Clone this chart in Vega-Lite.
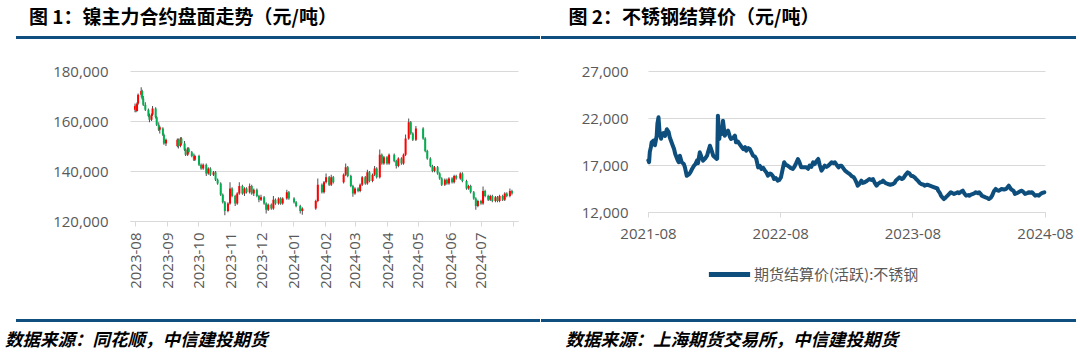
{
  "$schema": "https://vega.github.io/schema/vega-lite/v6.json",
  "padding": {"left": 5, "top": 8, "right": 0, "bottom": 0},
  "background": "white",
  "config": {
    "font": "Open Sans",
    "view": {"stroke": null},
    "concat": {"spacing": 0},
    "title": {"font": "Noto Sans CJK SC", "fontWeight": "bold", "color": "#000000", "anchor": "start"}
  },
  "resolve": {"scale": {"color": "independent"}, "legend": {"color": "independent"}},
  "spacing": 25,
  "datasets": {
    "ni": [
      {"d":"2023-08-01","o":164500,"h":167000,"l":163500,"c":166000},
      {"d":"2023-08-02","o":166000,"h":166500,"l":163500,"c":164000},
      {"d":"2023-08-03","o":164000,"h":167500,"l":163800,"c":167000},
      {"d":"2023-08-04","o":167000,"h":171000,"l":166500,"c":170500},
      {"d":"2023-08-07","o":170500,"h":173500,"l":169500,"c":172000},
      {"d":"2023-08-08","o":172000,"h":172500,"l":168500,"c":169000},
      {"d":"2023-08-09","o":169000,"h":170000,"l":166000,"c":166500},
      {"d":"2023-08-11","o":166500,"h":167500,"l":164000,"c":164500},
      {"d":"2023-08-14","o":164500,"h":165000,"l":161500,"c":162000},
      {"d":"2023-08-15","o":162000,"h":163000,"l":159500,"c":160500},
      {"d":"2023-08-17","o":160500,"h":163000,"l":160000,"c":162500},
      {"d":"2023-08-18","o":162500,"h":166000,"l":162000,"c":165000},
      {"d":"2023-08-21","o":165000,"h":165500,"l":161000,"c":161500},
      {"d":"2023-08-22","o":161500,"h":162000,"l":158000,"c":158500},
      {"d":"2023-08-24","o":158500,"h":159500,"l":156000,"c":156500},
      {"d":"2023-08-25","o":156500,"h":158000,"l":155000,"c":157500},
      {"d":"2023-08-28","o":157000,"h":157500,"l":154000,"c":154500},
      {"d":"2023-08-29","o":154500,"h":155000,"l":150500,"c":151000},
      {"d":"2023-08-31","o":151000,"h":153000,"l":150000,"c":152500},
      {"d":"2023-09-11","o":150000,"h":153000,"l":149500,"c":152500},
      {"d":"2023-09-12","o":152500,"h":153000,"l":149000,"c":150000},
      {"d":"2023-09-14","o":150000,"h":153500,"l":149500,"c":153000},
      {"d":"2023-09-15","o":153000,"h":153500,"l":150500,"c":151000},
      {"d":"2023-09-18","o":151000,"h":152000,"l":148000,"c":148500},
      {"d":"2023-09-19","o":148500,"h":149000,"l":146000,"c":146500},
      {"d":"2023-09-21","o":146500,"h":149500,"l":146000,"c":149000},
      {"d":"2023-09-22","o":149000,"h":149500,"l":147000,"c":147500},
      {"d":"2023-09-25","o":147500,"h":148000,"l":145500,"c":146000},
      {"d":"2023-09-27","o":146000,"h":147000,"l":144000,"c":144500},
      {"d":"2023-09-28","o":144500,"h":146500,"l":144000,"c":146000},
      {"d":"2023-10-02","o":146000,"h":146500,"l":142000,"c":142500},
      {"d":"2023-10-04","o":142500,"h":143000,"l":140500,"c":141000},
      {"d":"2023-10-06","o":141000,"h":143000,"l":140500,"c":142500},
      {"d":"2023-10-09","o":142500,"h":143000,"l":138000,"c":139000},
      {"d":"2023-10-11","o":139000,"h":141500,"l":138500,"c":141000},
      {"d":"2023-10-13","o":141000,"h":141500,"l":138000,"c":138500},
      {"d":"2023-10-16","o":138500,"h":140000,"l":138000,"c":139500},
      {"d":"2023-10-18","o":139500,"h":140000,"l":136000,"c":136500},
      {"d":"2023-10-20","o":136500,"h":137000,"l":134500,"c":135000},
      {"d":"2023-10-23","o":135000,"h":135500,"l":130000,"c":130500},
      {"d":"2023-10-25","o":130500,"h":131000,"l":127000,"c":127500},
      {"d":"2023-10-27","o":127500,"h":128000,"l":122300,"c":124000},
      {"d":"2023-10-30","o":124000,"h":127500,"l":123500,"c":127000},
      {"d":"2023-11-01","o":127000,"h":135500,"l":126500,"c":133000},
      {"d":"2023-11-03","o":133000,"h":133500,"l":129500,"c":130000},
      {"d":"2023-11-06","o":130000,"h":130500,"l":126000,"c":127000},
      {"d":"2023-11-08","o":127000,"h":131500,"l":126500,"c":131000},
      {"d":"2023-11-10","o":131000,"h":135500,"l":130500,"c":134000},
      {"d":"2023-11-13","o":134000,"h":134500,"l":130500,"c":131000},
      {"d":"2023-11-15","o":131000,"h":133500,"l":130000,"c":133000},
      {"d":"2023-11-17","o":133000,"h":133500,"l":131000,"c":131500},
      {"d":"2023-11-20","o":131500,"h":135000,"l":131000,"c":134000},
      {"d":"2023-11-22","o":134000,"h":134500,"l":130500,"c":131000},
      {"d":"2023-11-24","o":131000,"h":133000,"l":130000,"c":132500},
      {"d":"2023-11-27","o":132500,"h":133000,"l":129500,"c":130000},
      {"d":"2023-11-29","o":130000,"h":130500,"l":127500,"c":128500},
      {"d":"2023-12-01","o":128500,"h":130500,"l":128000,"c":129500},
      {"d":"2023-12-04","o":129500,"h":130000,"l":126500,"c":127000},
      {"d":"2023-12-06","o":127000,"h":127500,"l":123000,"c":124500},
      {"d":"2023-12-08","o":124500,"h":127000,"l":124000,"c":126500},
      {"d":"2023-12-11","o":126500,"h":127000,"l":124500,"c":125000},
      {"d":"2023-12-13","o":125000,"h":130000,"l":124500,"c":128500},
      {"d":"2023-12-15","o":128500,"h":129000,"l":126500,"c":127000},
      {"d":"2023-12-18","o":127000,"h":129500,"l":126500,"c":129000},
      {"d":"2023-12-20","o":129000,"h":129500,"l":126500,"c":127000},
      {"d":"2023-12-22","o":127000,"h":129500,"l":126500,"c":129000},
      {"d":"2023-12-26","o":129000,"h":132500,"l":128500,"c":131500},
      {"d":"2023-12-28","o":131500,"h":132000,"l":128500,"c":129000},
      {"d":"2024-01-02","o":129000,"h":129500,"l":127000,"c":127500},
      {"d":"2024-01-04","o":127500,"h":128000,"l":125500,"c":126000},
      {"d":"2024-01-08","o":126000,"h":126500,"l":123000,"c":124000},
      {"d":"2024-01-10","o":124000,"h":125500,"l":122500,"c":125000},
      {"d":"2024-01-23","o":125000,"h":128500,"l":124500,"c":128000},
      {"d":"2024-01-25","o":128000,"h":137000,"l":127500,"c":134500},
      {"d":"2024-01-29","o":134500,"h":135000,"l":131000,"c":131500},
      {"d":"2024-01-31","o":131500,"h":136000,"l":131000,"c":135500},
      {"d":"2024-02-02","o":135500,"h":139000,"l":135000,"c":137500},
      {"d":"2024-02-05","o":137500,"h":138000,"l":134000,"c":134500},
      {"d":"2024-02-07","o":134500,"h":138500,"l":134000,"c":137500},
      {"d":"2024-02-09","o":137500,"h":138000,"l":135000,"c":135500},
      {"d":"2024-02-19","o":135500,"h":139000,"l":135000,"c":138500},
      {"d":"2024-02-21","o":138500,"h":143000,"l":138000,"c":141500},
      {"d":"2024-02-23","o":141500,"h":142000,"l":137500,"c":138000},
      {"d":"2024-02-26","o":138000,"h":138500,"l":133500,"c":134000},
      {"d":"2024-02-28","o":134000,"h":134500,"l":129700,"c":131000},
      {"d":"2024-03-01","o":131000,"h":133500,"l":130500,"c":133000},
      {"d":"2024-03-04","o":133000,"h":133500,"l":131500,"c":132000},
      {"d":"2024-03-06","o":132000,"h":135000,"l":131500,"c":134500},
      {"d":"2024-03-08","o":134500,"h":138000,"l":134000,"c":137500},
      {"d":"2024-03-11","o":137500,"h":138000,"l":134500,"c":135000},
      {"d":"2024-03-13","o":135000,"h":140500,"l":134500,"c":139500},
      {"d":"2024-03-15","o":139500,"h":140000,"l":135500,"c":136000},
      {"d":"2024-03-18","o":136000,"h":139000,"l":135500,"c":138500},
      {"d":"2024-03-20","o":138500,"h":142000,"l":138000,"c":141000},
      {"d":"2024-03-22","o":141000,"h":141500,"l":137000,"c":137500},
      {"d":"2024-03-25","o":137500,"h":148600,"l":137000,"c":146500},
      {"d":"2024-03-27","o":146500,"h":147000,"l":142500,"c":143000},
      {"d":"2024-03-29","o":143000,"h":146000,"l":142500,"c":145500},
      {"d":"2024-04-01","o":145500,"h":146000,"l":142500,"c":143000},
      {"d":"2024-04-03","o":143000,"h":147000,"l":142500,"c":146500},
      {"d":"2024-04-08","o":146500,"h":147000,"l":143500,"c":144000},
      {"d":"2024-04-10","o":144000,"h":144500,"l":141000,"c":142000},
      {"d":"2024-04-12","o":142000,"h":145500,"l":141500,"c":145000},
      {"d":"2024-04-15","o":145000,"h":145500,"l":142500,"c":143000},
      {"d":"2024-04-17","o":143000,"h":147000,"l":142500,"c":146500},
      {"d":"2024-04-19","o":146500,"h":154600,"l":146000,"c":153000},
      {"d":"2024-04-22","o":153000,"h":161000,"l":152500,"c":159500},
      {"d":"2024-04-24","o":159500,"h":160000,"l":154500,"c":155000},
      {"d":"2024-04-26","o":155000,"h":155500,"l":152000,"c":152500},
      {"d":"2024-04-29","o":152500,"h":158000,"l":152000,"c":157000},
      {"d":"2024-05-06","o":157000,"h":157500,"l":152500,"c":153000},
      {"d":"2024-05-08","o":153000,"h":153500,"l":147500,"c":148000},
      {"d":"2024-05-10","o":148000,"h":148500,"l":144500,"c":145000},
      {"d":"2024-05-13","o":145000,"h":145500,"l":141500,"c":142000},
      {"d":"2024-05-15","o":142000,"h":142500,"l":139500,"c":140000},
      {"d":"2024-05-17","o":140000,"h":142000,"l":139500,"c":141500},
      {"d":"2024-05-20","o":141500,"h":142000,"l":138500,"c":139000},
      {"d":"2024-05-22","o":139000,"h":139500,"l":136500,"c":137000},
      {"d":"2024-05-24","o":137000,"h":137500,"l":134000,"c":134500},
      {"d":"2024-05-27","o":134500,"h":137000,"l":134000,"c":136500},
      {"d":"2024-05-29","o":136500,"h":137000,"l":134500,"c":135000},
      {"d":"2024-05-31","o":135000,"h":137500,"l":134500,"c":137000},
      {"d":"2024-06-03","o":137000,"h":137500,"l":135000,"c":135500},
      {"d":"2024-06-05","o":135500,"h":138500,"l":135000,"c":138000},
      {"d":"2024-06-07","o":138000,"h":138500,"l":136500,"c":137000},
      {"d":"2024-06-11","o":137000,"h":139500,"l":136500,"c":139000},
      {"d":"2024-06-13","o":139000,"h":139500,"l":135500,"c":136000},
      {"d":"2024-06-17","o":136000,"h":136500,"l":132500,"c":133000},
      {"d":"2024-06-19","o":133000,"h":134500,"l":132500,"c":134000},
      {"d":"2024-06-21","o":134000,"h":134500,"l":131000,"c":131500},
      {"d":"2024-06-24","o":131500,"h":132000,"l":128500,"c":129000},
      {"d":"2024-06-26","o":129000,"h":129500,"l":124500,"c":126000},
      {"d":"2024-06-28","o":126000,"h":128500,"l":125500,"c":128000},
      {"d":"2024-07-01","o":128000,"h":128500,"l":126500,"c":127000},
      {"d":"2024-07-03","o":127000,"h":133800,"l":126500,"c":132000},
      {"d":"2024-07-05","o":132000,"h":132500,"l":129500,"c":130000},
      {"d":"2024-07-08","o":130000,"h":130500,"l":128000,"c":128500},
      {"d":"2024-07-10","o":128500,"h":130500,"l":128000,"c":130000},
      {"d":"2024-07-12","o":130000,"h":130500,"l":127500,"c":128000},
      {"d":"2024-07-15","o":128000,"h":130000,"l":127500,"c":129500},
      {"d":"2024-07-17","o":129500,"h":130000,"l":127500,"c":128000},
      {"d":"2024-07-19","o":128000,"h":130500,"l":127500,"c":130000},
      {"d":"2024-07-22","o":130000,"h":130500,"l":128000,"c":128500},
      {"d":"2024-07-24","o":128500,"h":131500,"l":128000,"c":131000},
      {"d":"2024-07-26","o":131000,"h":131500,"l":129500,"c":130000},
      {"d":"2024-07-29","o":130000,"h":133000,"l":129500,"c":132000},
      {"d":"2024-07-31","o":132000,"h":132500,"l":130500,"c":131000}
    ],
    "ss": [
      {"d":"2021-08-02","v":17500},{"d":"2021-08-04","v":17300},{"d":"2021-08-06","v":18400},{"d":"2021-08-09","v":18900},
      {"d":"2021-08-11","v":19400},{"d":"2021-08-16","v":19600},{"d":"2021-08-20","v":19100},{"d":"2021-08-25","v":20100},
      {"d":"2021-08-27","v":21400},{"d":"2021-08-30","v":22070},{"d":"2021-09-02","v":20500},{"d":"2021-09-06","v":19800},
      {"d":"2021-09-09","v":20300},{"d":"2021-09-13","v":20400},{"d":"2021-09-17","v":20100},{"d":"2021-09-22","v":20800},
      {"d":"2021-09-27","v":20500},{"d":"2021-09-30","v":19950},{"d":"2021-10-08","v":19100},{"d":"2021-10-12","v":18700},
      {"d":"2021-10-15","v":18200},{"d":"2021-10-19","v":17800},{"d":"2021-10-22","v":17500},{"d":"2021-10-25","v":17290},
      {"d":"2021-10-28","v":17990},{"d":"2021-11-02","v":17290},{"d":"2021-11-08","v":17100},{"d":"2021-11-11","v":16750},
      {"d":"2021-11-16","v":15860},{"d":"2021-11-22","v":16000},{"d":"2021-11-26","v":16220},{"d":"2021-12-01","v":16600},
      {"d":"2021-12-06","v":16930},{"d":"2021-12-10","v":17100},{"d":"2021-12-14","v":17460},{"d":"2021-12-17","v":17200},
      {"d":"2021-12-22","v":18350},{"d":"2021-12-27","v":17800},{"d":"2021-12-31","v":17460},{"d":"2022-01-06","v":17700},
      {"d":"2022-01-11","v":17990},{"d":"2022-01-14","v":18400},{"d":"2022-01-19","v":19050},{"d":"2022-01-24","v":18500},
      {"d":"2022-01-28","v":17990},{"d":"2022-02-07","v":17650},{"d":"2022-02-08","v":17700},{"d":"2022-02-10","v":22250},
      {"d":"2022-02-14","v":19770},{"d":"2022-02-16","v":20830},{"d":"2022-02-21","v":20300},{"d":"2022-02-24","v":21710},
      {"d":"2022-03-01","v":20120},{"d":"2022-03-04","v":20400},{"d":"2022-03-10","v":20650},{"d":"2022-03-15","v":20000},
      {"d":"2022-03-18","v":19770},{"d":"2022-03-24","v":19900},{"d":"2022-03-29","v":20120},{"d":"2022-04-01","v":19410},
      {"d":"2022-04-06","v":19500},{"d":"2022-04-11","v":19230},{"d":"2022-04-15","v":19000},{"d":"2022-04-21","v":18700},
      {"d":"2022-04-26","v":18900},{"d":"2022-04-29","v":18520},{"d":"2022-05-05","v":18800},{"d":"2022-05-09","v":18700},
      {"d":"2022-05-13","v":18400},{"d":"2022-05-18","v":17990},{"d":"2022-05-23","v":17900},{"d":"2022-05-27","v":17640},
      {"d":"2022-06-01","v":16750},{"d":"2022-06-06","v":16900},{"d":"2022-06-10","v":16580},{"d":"2022-06-15","v":16700},
      {"d":"2022-06-20","v":16400},{"d":"2022-06-24","v":16200},{"d":"2022-06-28","v":15860},{"d":"2022-07-04","v":16100},
      {"d":"2022-07-07","v":16040},{"d":"2022-07-12","v":15800},{"d":"2022-07-15","v":15510},{"d":"2022-07-20","v":15600},
      {"d":"2022-07-25","v":15330},{"d":"2022-07-29","v":15400},{"d":"2022-08-03","v":15690},{"d":"2022-08-08","v":16600},
      {"d":"2022-08-12","v":17290},{"d":"2022-08-17","v":17000},{"d":"2022-08-22","v":16930},{"d":"2022-08-29","v":16700},
      {"d":"2022-09-05","v":16580},{"d":"2022-09-09","v":16800},{"d":"2022-09-14","v":17200},{"d":"2022-09-19","v":17640},
      {"d":"2022-09-23","v":17300},{"d":"2022-09-28","v":16750},{"d":"2022-10-12","v":16750},{"d":"2022-10-17","v":16600},
      {"d":"2022-10-21","v":16930},{"d":"2022-10-26","v":16800},{"d":"2022-10-31","v":17290},{"d":"2022-11-04","v":17100},
      {"d":"2022-11-09","v":17400},{"d":"2022-11-14","v":17640},{"d":"2022-11-18","v":17000},{"d":"2022-11-23","v":16400},
      {"d":"2022-11-28","v":16700},{"d":"2022-12-02","v":16930},{"d":"2022-12-07","v":16800},{"d":"2022-12-12","v":16930},
      {"d":"2022-12-16","v":17100},{"d":"2022-12-21","v":17290},{"d":"2022-12-26","v":17200},{"d":"2022-12-30","v":17290},
      {"d":"2023-01-04","v":17000},{"d":"2023-01-09","v":16750},{"d":"2023-01-13","v":16930},{"d":"2023-01-17","v":16930},
      {"d":"2023-01-27","v":16400},{"d":"2023-02-03","v":16200},{"d":"2023-02-09","v":16040},{"d":"2023-02-15","v":15800},
      {"d":"2023-02-20","v":15700},{"d":"2023-02-23","v":15510},{"d":"2023-02-28","v":15100},{"d":"2023-03-03","v":14800},
      {"d":"2023-03-08","v":15000},{"d":"2023-03-13","v":15330},{"d":"2023-03-17","v":15100},{"d":"2023-03-22","v":15160},
      {"d":"2023-03-28","v":15300},{"d":"2023-04-04","v":15510},{"d":"2023-04-10","v":15400},{"d":"2023-04-14","v":15510},
      {"d":"2023-04-19","v":15100},{"d":"2023-04-24","v":14800},{"d":"2023-04-28","v":15000},{"d":"2023-05-04","v":15160},
      {"d":"2023-05-09","v":15200},{"d":"2023-05-12","v":15330},{"d":"2023-05-18","v":15100},{"d":"2023-05-25","v":14980},
      {"d":"2023-06-01","v":14900},{"d":"2023-06-08","v":14980},{"d":"2023-06-13","v":15100},{"d":"2023-06-16","v":15330},
      {"d":"2023-06-21","v":15500},{"d":"2023-06-26","v":15690},{"d":"2023-07-03","v":15510},{"d":"2023-07-07","v":15600},
      {"d":"2023-07-12","v":15900},{"d":"2023-07-19","v":16220},{"d":"2023-07-24","v":16100},{"d":"2023-07-28","v":15860},
      {"d":"2023-08-03","v":15800},{"d":"2023-08-07","v":15690},{"d":"2023-08-11","v":15500},{"d":"2023-08-16","v":15330},
      {"d":"2023-08-21","v":15100},{"d":"2023-08-25","v":14980},{"d":"2023-09-01","v":14900},{"d":"2023-09-04","v":14800},
      {"d":"2023-09-11","v":14900},{"d":"2023-09-18","v":14800},{"d":"2023-09-25","v":14700},{"d":"2023-10-09","v":14500},
      {"d":"2023-10-11","v":14270},{"d":"2023-10-16","v":14000},{"d":"2023-10-19","v":13740},{"d":"2023-10-24","v":13500},
      {"d":"2023-10-27","v":13380},{"d":"2023-11-01","v":13550},{"d":"2023-11-06","v":13740},{"d":"2023-11-10","v":13900},
      {"d":"2023-11-15","v":14100},{"d":"2023-11-20","v":14000},{"d":"2023-11-24","v":13920},{"d":"2023-11-29","v":14000},
      {"d":"2023-12-04","v":14100},{"d":"2023-12-08","v":14000},{"d":"2023-12-13","v":14150},{"d":"2023-12-18","v":14270},
      {"d":"2023-12-22","v":14000},{"d":"2023-12-27","v":13740},{"d":"2024-01-02","v":13800},{"d":"2024-01-05","v":13740},
      {"d":"2024-01-10","v":13850},{"d":"2024-01-15","v":13920},{"d":"2024-01-19","v":14000},{"d":"2024-01-23","v":14100},
      {"d":"2024-01-29","v":14000},{"d":"2024-02-01","v":14100},{"d":"2024-02-06","v":13900},{"d":"2024-02-08","v":13740},
      {"d":"2024-02-19","v":13560},{"d":"2024-02-23","v":13500},{"d":"2024-02-28","v":13380},{"d":"2024-03-04","v":13500},
      {"d":"2024-03-08","v":13740},{"d":"2024-03-13","v":14200},{"d":"2024-03-18","v":14450},{"d":"2024-03-22","v":14300},
      {"d":"2024-03-26","v":14270},{"d":"2024-04-01","v":14400},{"d":"2024-04-03","v":14450},{"d":"2024-04-10","v":14400},
      {"d":"2024-04-15","v":14450},{"d":"2024-04-19","v":14600},{"d":"2024-04-23","v":14800},{"d":"2024-04-26","v":14600},
      {"d":"2024-04-30","v":14400},{"d":"2024-05-06","v":14270},{"d":"2024-05-10","v":13920},{"d":"2024-05-15","v":14000},
      {"d":"2024-05-20","v":14100},{"d":"2024-05-24","v":14200},{"d":"2024-05-29","v":14270},{"d":"2024-06-03","v":14100},
      {"d":"2024-06-07","v":13920},{"d":"2024-06-13","v":14000},{"d":"2024-06-17","v":14100},{"d":"2024-06-21","v":14050},
      {"d":"2024-06-26","v":14100},{"d":"2024-07-01","v":13900},{"d":"2024-07-05","v":13740},{"d":"2024-07-10","v":13800},
      {"d":"2024-07-15","v":13740},{"d":"2024-07-19","v":13900},{"d":"2024-07-23","v":14000},{"d":"2024-07-30","v":14100}
    ]
  },
  "vconcat": [
    {
      "spacing": 0,
      "hconcat": [
        {
          "title": {"text": "图 1：镍主力合约盘面走势（元/吨）", "fontSize": 19, "dx": 13, "offset": 8},
          "width": 410, "height": 3,
          "data": {"values": [{"k": 1}]},
          "mark": {"type": "rect", "color": "#0E4F80"},
          "encoding": {
            "x": {"datum": 0, "type": "quantitative", "scale": {"domain": [0, 1], "range": [-114, 410]}, "axis": null},
            "x2": {"datum": 1}
          }
        },
        {
          "title": {"text": "图 2：不锈钢结算价（元/吨）", "fontSize": 19, "dx": 28, "offset": 8},
          "width": 535, "height": 3,
          "data": {"values": [{"k": 1}]},
          "mark": {"type": "rule", "opacity": 0}, "encoding": {},
          "view": {"fill": "#0E4F80", "stroke": null}
        }
      ]
    },
    {
      "spacing": 0,
      "resolve": {"scale": {"color": "independent"}, "legend": {"color": "independent"}},
      "hconcat": [
        {
          "width": 388, "height": 150,
          "data": {"name": "ni"},
          "encoding": {
            "x": {
              "field": "d", "type": "temporal",
              "scale": {"type": "utc", "domain": [{"year": 2023, "month": 8, "date": 1, "utc": true}, {"year": 2024, "month": 8, "date": 1, "utc": true}]},
              "axis": {
                "title": null, "tickCount": {"interval": "month", "step": 1},
                "labelExpr": "utcFormat(datum.value, '%Y-%m') == '2024-08' ? '' : utcFormat(datum.value, '%Y-%m')",
                "labelAngle": -90, "labelFontSize": 15, "labelColor": "#595959", "labelFlush": false, "labelOverlap": false,
                "domainColor": "#D9D9D9", "tickColor": "#D9D9D9", "tickSize": 5, "labelPadding": 6, "grid": false, "minExtent": 72
              }
            }
          },
          "layer": [
            {
              "mark": {"type": "rule", "color": "#4D4D4D", "strokeWidth": 1},
              "encoding": {
                "y": {
                  "field": "l", "type": "quantitative",
                  "scale": {"domain": [120000, 180000], "zero": false, "nice": false},
                  "axis": {
                    "title": null, "values": [120000, 130000, 140000, 150000, 160000, 170000, 180000],
                    "labelExpr": "floor(datum.value / 1000) + ',000'", "labelOverlap": false,
                    "grid": true, "gridColor": "#D9D9D9", "domain": false, "ticks": false,
                    "labelPadding": 22, "labelFontSize": 15, "labelColor": "#595959"
                  }
                },
                "y2": {"field": "h"}
              }
            },
            {
              "mark": {"type": "bar", "size": 2},
              "encoding": {
                "y": {"field": "o", "type": "quantitative"},
                "y2": {"field": "c"},
                "color": {"condition": {"test": "datum.c >= datum.o", "value": "#FF0000"}, "value": "#00B050"}
              }
            }
          ]
        },
        {
          "width": 397, "height": 141,
          "data": {"name": "ss"},
          "mark": {"type": "line", "strokeWidth": 4, "strokeJoin": "round", "strokeCap": "round"},
          "encoding": {
            "x": {
              "field": "d", "type": "temporal",
              "scale": {"type": "utc", "domain": [{"year": 2021, "month": 8, "date": 1, "utc": true}, {"year": 2024, "month": 8, "date": 1, "utc": true}]},
              "axis": {
                "title": null,
                "values": [{"year": 2021, "month": 8, "date": 1, "utc": true}, {"year": 2022, "month": 8, "date": 1, "utc": true}, {"year": 2023, "month": 8, "date": 1, "utc": true}, {"year": 2024, "month": 8, "date": 1, "utc": true}],
                "labelExpr": "utcFormat(datum.value, '%Y-%m')",
                "labelFontSize": 15, "labelColor": "#595959", "labelFlush": false, "labelOverlap": false,
                "domainColor": "#D9D9D9", "tickColor": "#D9D9D9", "tickSize": 5, "labelPadding": 9, "grid": false
              }
            },
            "y": {
              "field": "v", "type": "quantitative",
              "scale": {"domain": [12000, 27000], "zero": false, "nice": false},
              "axis": {
                "title": null, "values": [12000, 17000, 22000, 27000],
                "labelExpr": "floor(datum.value / 1000) + ',000'", "labelOverlap": false,
                "grid": true, "gridColor": "#D9D9D9", "domain": false, "ticks": false,
                "labelPadding": 20, "minExtent": 126, "labelFontSize": 15, "labelColor": "#595959"
              }
            },
            "color": {
              "datum": "期货结算价(活跃):不锈钢",
              "scale": {"range": ["#0D4E7C"]},
              "legend": {
                "orient": "none", "legendX": 58, "legendY": 180, "title": null, "symbolType": "stroke", "symbolStrokeWidth": 5, "symbolSize": 1700,
                "labelFontSize": 15, "labelColor": "#595959", "labelFont": "Noto Sans CJK SC", "labelOffset": 1, "labelLimit": 400,
                "padding": 0
              }
            }
          }
        }
      ]
    },
    {
      "spacing": 0,
      "hconcat": [
        {
          "title": {"text": "数据来源：同花顺，中信建投期货", "orient": "bottom", "fontSize": 17.5, "fontStyle": "italic", "dx": -11, "offset": 10},
          "width": 410, "height": 3,
          "data": {"values": [{"k": 1}]},
          "mark": {"type": "rect", "color": "#0E4F80"},
          "encoding": {
            "x": {"datum": 0, "type": "quantitative", "scale": {"domain": [0, 1], "range": [-114, 410]}, "axis": null},
            "x2": {"datum": 1}
          }
        },
        {
          "title": {"text": "数据来源：上海期货交易所，中信建投期货", "orient": "bottom", "fontSize": 17.5, "fontStyle": "italic", "dx": 25, "offset": 10},
          "width": 535, "height": 3,
          "data": {"values": [{"k": 1}]},
          "mark": {"type": "rule", "opacity": 0}, "encoding": {},
          "view": {"fill": "#0E4F80", "stroke": null}
        }
      ]
    }
  ]
}
